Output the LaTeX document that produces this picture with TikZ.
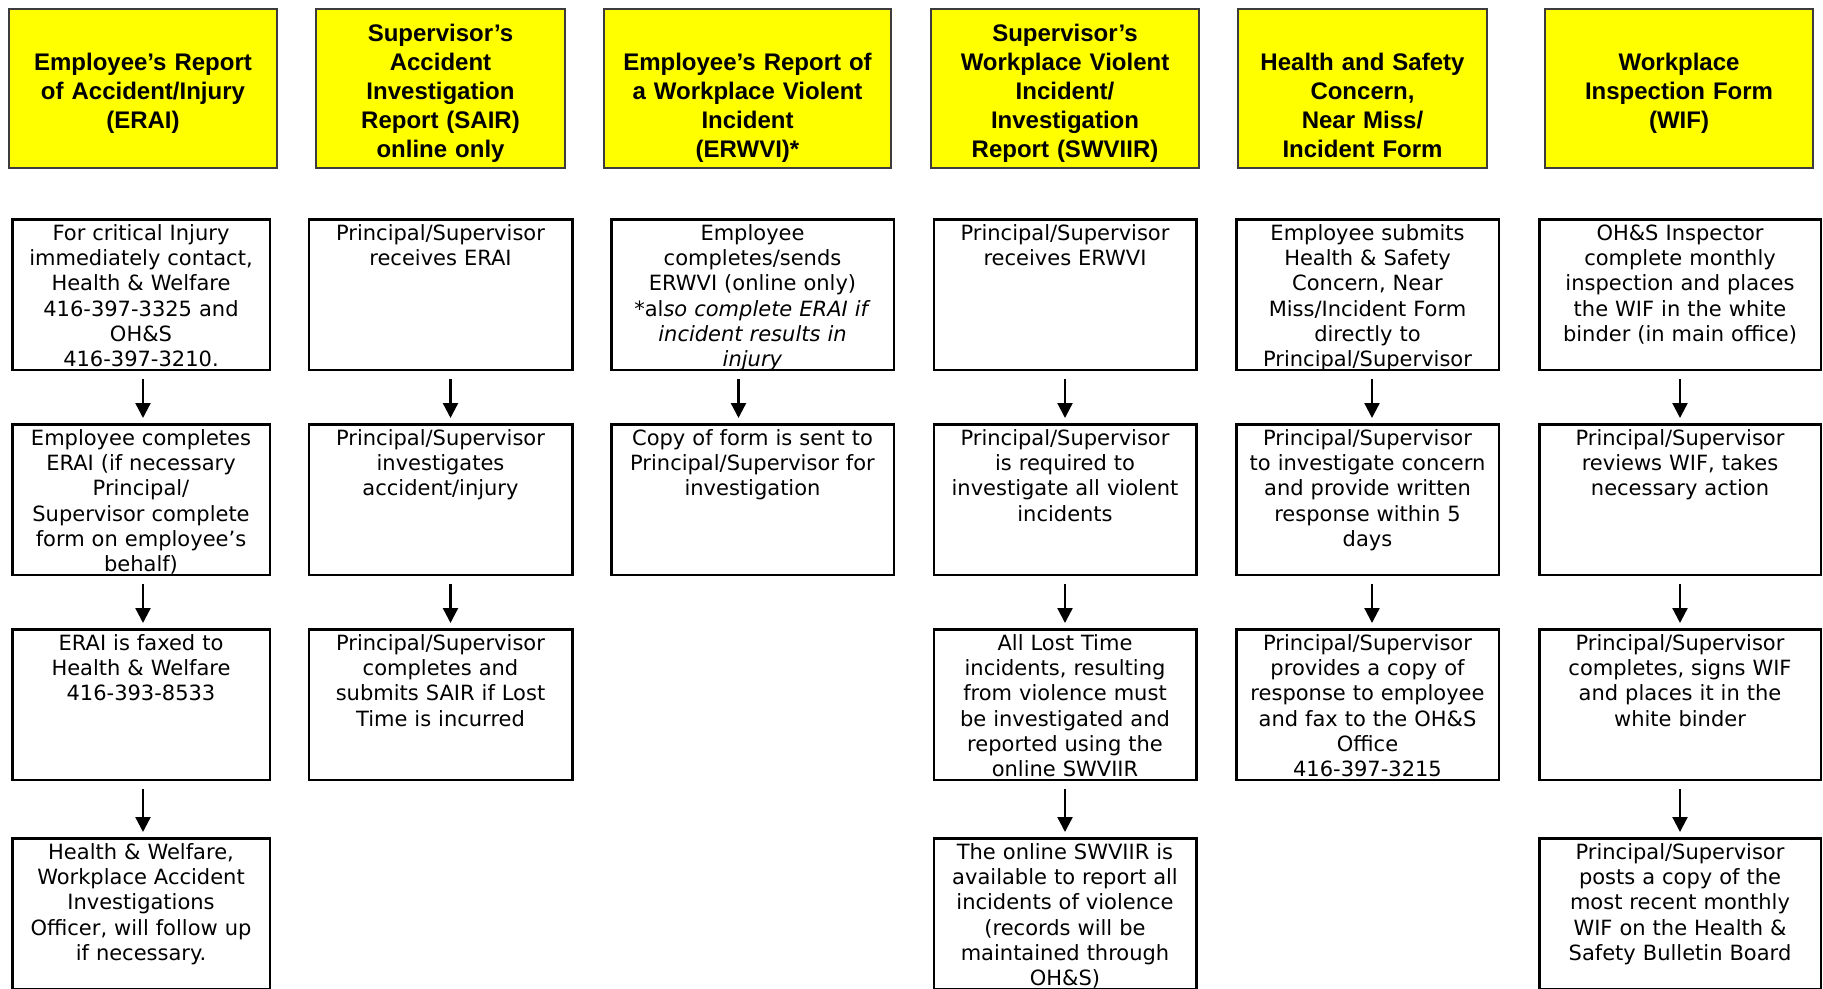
\documentclass[tikz,border=0pt]{standalone}
\usepackage{fontspec}
\setmainfont{DejaVu Sans}
\newfontfamily\hdrfont{Liberation Sans}
\usepackage{tikz}
\usetikzlibrary{positioning}
\usetikzlibrary{arrows.meta}
\definecolor{hdryellow}{RGB}{255,255,0}
\definecolor{hdrline}{RGB}{60,60,60}

\begin{document}
\begin{tikzpicture}[node distance=205pt, on grid, auto,
        hdr/.style={draw=hdrline, fill=hdryellow, line width=2pt, inner sep=0pt, text width=#1, align=center,
          text height=61pt, text depth=98pt, font=\hdrfont\bfseries\fontsize{24}{29}\selectfont},
        hdrtall/.style={text height=32pt, text depth=127pt},
        stepbox/.style={draw, line width=2.5pt, inner xsep=2pt, inner ysep=2pt, text width=#1, align=center,
          text height=19pt, text depth=127.5pt, font=\fontsize{21}{25.3}\selectfont},
        conn/.style={-{Triangle[width=15pt,length=15pt]}, line width=2.3pt, shorten <=8pt, shorten >=5pt}]

        \useasboundingbox (0,0) rectangle (1823pt,-988pt);

        % headers
        \node[hdr=268pt] (herai) at (143pt,-88.5pt) {Employee’s Report\\of Accident/Injury\\(ERAI)};
        \node[hdr=249pt, hdrtall] (hsair) [right=297.5pt of herai] {Supervisor’s\\Accident\\Investigation\\Report (SAIR)\\online only};
        \node[hdr=287pt] (herwvi) [right=307pt of hsair] {Employee’s Report of\\a Workplace Violent\\Incident\\(ERWVI)*};
        \node[hdr=268pt, hdrtall] (hswviir) [right=317.5pt of herwvi] {Supervisor’s\\Workplace Violent\\Incident/\\Investigation\\Report (SWVIIR)};
        \node[hdr=249pt] (hhsc) [right=297.5pt of hswviir] {Health and Safety\\Concern,\\Near Miss/\\Incident Form};
        \node[hdr=268pt] (hwif) [right=316.5pt of hhsc] {Workplace\\Inspection Form\\(WIF)};

        % ERAI
        \node[stepbox=253.5pt] (erai1) [below=206pt of herai, xshift=-2pt] {For critical Injury\\immediately contact,\\Health \& Welfare\\416-397-3325 and\\OH\&S\\416-397-3210.};
        \node[stepbox=253.5pt] (erai2) [below=of erai1] {Employee completes\\ERAI (if necessary\\Principal/\\Supervisor complete\\form on employee’s\\behalf)};
        \node[stepbox=253.5pt] (erai3) [below=of erai2] {ERAI is faxed to\\Health \& Welfare\\416-393-8533};
        \node[stepbox=253.5pt] (erai4) [below=209pt of erai3] {Health \& Welfare,\\Workplace Accident\\Investigations\\Officer, will follow up\\if necessary.};

        % SAIR
        \node[stepbox=259.5pt] (sair1) [below=206pt of hsair] {Principal/Supervisor\\receives ERAI};
        \node[stepbox=259.5pt] (sair2) [below=of sair1] {Principal/Supervisor\\investigates\\accident/injury};
        \node[stepbox=259.5pt] (sair3) [below=of sair2] {Principal/Supervisor\\completes and\\submits SAIR if Lost\\Time is incurred};

        % ERWVI
        \node[stepbox=278.5pt] (erwvi1) [below=206pt of herwvi, xshift=5pt] {Employee\\completes/sends\\ERWVI (online only)\\{*}al\textit{so complete ERAI if}\\\textit{incident results in}\\\textit{injury}};
        \node[stepbox=278.5pt] (erwvi2) [below=of erwvi1] {Copy of form is sent to\\Principal/Supervisor for\\investigation};

        % SWVIIR
        \node[stepbox=258.5pt] (swviir1) [below=206pt of hswviir] {Principal/Supervisor\\receives ERWVI};
        \node[stepbox=258.5pt] (swviir2) [below=of swviir1] {Principal/Supervisor\\is required to\\investigate all violent\\incidents};
        \node[stepbox=258.5pt] (swviir3) [below=of swviir2] {All Lost Time\\incidents, resulting\\from violence must\\be investigated and\\reported using the\\online SWVIIR};
        \node[stepbox=258.5pt] (swviir4) [below=209pt of swviir3] {The online SWVIIR is\\available to report all\\incidents of violence\\(records will be\\maintained through\\OH\&S)};

        % concern / near miss
        \node[stepbox=258.5pt] (hsc1) [below=206pt of hhsc, xshift=5pt] {Employee submits\\Health \& Safety\\Concern, Near\\Miss/Incident Form\\directly to\\Principal/Supervisor};
        \node[stepbox=258.5pt] (hsc2) [below=of hsc1] {Principal/Supervisor\\to investigate concern\\and provide written\\response within 5\\days};
        \node[stepbox=258.5pt] (hsc3) [below=of hsc2] {Principal/Supervisor\\provides a copy of\\response to employee\\and fax to the OH\&S\\Office\\416-397-3215};

        % WIF
        \node[stepbox=277.5pt] (wif1) [below=206pt of hwif, xshift=1pt] {OH\&S Inspector\\complete monthly\\inspection and places\\the WIF in the white\\binder (in main office)};
        \node[stepbox=277.5pt] (wif2) [below=of wif1] {Principal/Supervisor\\reviews WIF, takes\\necessary action};
        \node[stepbox=277.5pt] (wif3) [below=of wif2] {Principal/Supervisor\\completes, signs WIF\\and places it in the\\white binder};
        \node[stepbox=277.5pt] (wif4) [below=209pt of wif3] {Principal/Supervisor\\posts a copy of the\\most recent monthly\\WIF on the Health \&\\Safety Bulletin Board};

        \path[conn]
          ([xshift=2pt]erai1.south) edge ([xshift=2pt]erai2.north)
          ([xshift=2pt]erai2.south) edge ([xshift=2pt]erai3.north)
          ([xshift=2pt]erai3.south) edge ([xshift=2pt]erai4.north)
          ([xshift=10pt]sair1.south) edge ([xshift=10pt]sair2.north)
          ([xshift=10pt]sair2.south) edge ([xshift=10pt]sair3.north)
          ([xshift=-14pt]erwvi1.south) edge ([xshift=-14pt]erwvi2.north)
          (swviir1) edge (swviir2)
          (swviir2) edge (swviir3)
          (swviir3) edge (swviir4)
          ([xshift=4.5pt]hsc1.south) edge ([xshift=4.5pt]hsc2.north)
          ([xshift=4.5pt]hsc2.south) edge ([xshift=4.5pt]hsc3.north)
          (wif1) edge (wif2)
          (wif2) edge (wif3)
          (wif3) edge (wif4);

\end{tikzpicture}
\end{document}
